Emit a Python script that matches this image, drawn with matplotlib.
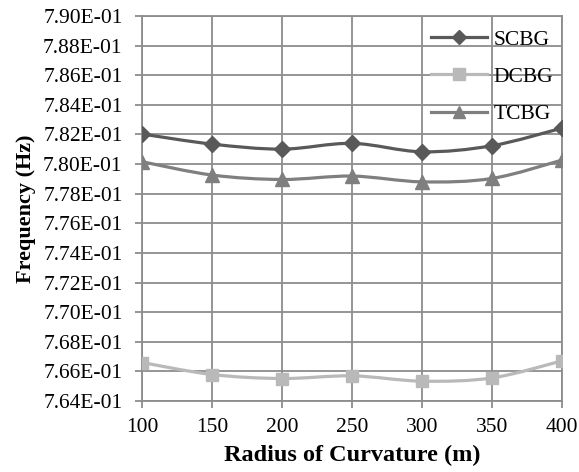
import numpy as np
import matplotlib.pyplot as plt
from matplotlib.path import Path
from matplotlib.patches import PathPatch
from matplotlib.lines import Line2D

# Values
radius = [100, 150, 200, 250, 300, 350, 400]
scbg = [0.78203, 0.78135, 0.78101, 0.78140, 0.78083, 0.78124, 0.78243]
dcbg = [0.76660, 0.76579, 0.76552, 0.76570, 0.76534, 0.76556, 0.76671]
tcbg = [0.78016, 0.77926, 0.77896, 0.77919, 0.77880, 0.77903, 0.78027]

series = [
    ('SCBG', scbg, '#595959', 'D', 8.5),
    ('DCBG', dcbg, '#b9b9b9', 's', 9),
    ('TCBG', tcbg, '#7f7f7f', '^', 10),
]

plt.rcParams['font.family'] = 'Liberation Serif'


def smooth_path(x, y):
    # Excel style smoothed line: cubic Bezier segments through every point
    x = np.asarray(x, float)
    y = np.asarray(y, float)
    verts = [(x[0], y[0])]
    codes = [Path.MOVETO]
    n = len(x)
    for i in range(n - 1):
        x0, y0 = (x[i - 1], y[i - 1]) if i > 0 else (x[i], y[i])
        x3, y3 = (x[i + 2], y[i + 2]) if i + 2 < n else (x[i + 1], y[i + 1])
        c1 = (x[i] + (x[i + 1] - x0) / 6, y[i] + (y[i + 1] - y0) / 6)
        c2 = (x[i + 1] - (x3 - x[i]) / 6, y[i + 1] - (y3 - y[i]) / 6)
        verts += [c1, c2, (x[i + 1], y[i + 1])]
        codes += [Path.CURVE4] * 3
    return Path(verts, codes)


fig = plt.figure(figsize=(5.79, 4.72), dpi=100)
ax = fig.add_axes([0.2453, 0.1504, 0.7253, 0.8157])

handles = []
for name, vals, col, mk, ms in series:
    ax.add_patch(PathPatch(smooth_path(radius, vals), fill=False, edgecolor=col, lw=2.3, zorder=3))
    ax.plot(radius, vals, linestyle='none', marker=mk, markersize=ms, color=col, zorder=4)
    handles.append(Line2D([], [], color=col, lw=2.3, marker=mk, markersize=ms - 1))

ax.set_xlim(100, 400)
ax.set_ylim(0.764, 0.790)
ax.set_xticks(radius)
ax.set_yticks(np.arange(0.764, 0.7901, 0.002))
ax.yaxis.set_major_formatter(plt.FuncFormatter(lambda v, p: '%.2E' % v))

ax.grid(True, color='#8c8c8c', lw=1.3)
ax.set_axisbelow(True)
for s in ax.spines.values():
    s.set_color('#8c8c8c')
    s.set_linewidth(1.3)
ax.tick_params(direction='out', length=5, width=1.3, color='#8c8c8c', labelsize=15.5)
ax.tick_params(axis='y', pad=9)
ax.tick_params(axis='x', pad=7)

ax.set_xlabel('Radius of Curvature (m)', fontsize=17.5, fontweight='bold', labelpad=6)
ax.set_ylabel('Frequency (Hz)', fontsize=16, fontweight='bold', labelpad=5)

ax.legend(handles, ['SCBG', 'DCBG', 'TCBG'], loc='upper right', bbox_to_anchor=(1.025, 1.015),
          frameon=False, fontsize=15.5, labelspacing=0.8, handlelength=2.6, handletextpad=0.3)

fig.savefig('out.png', dpi=100)
